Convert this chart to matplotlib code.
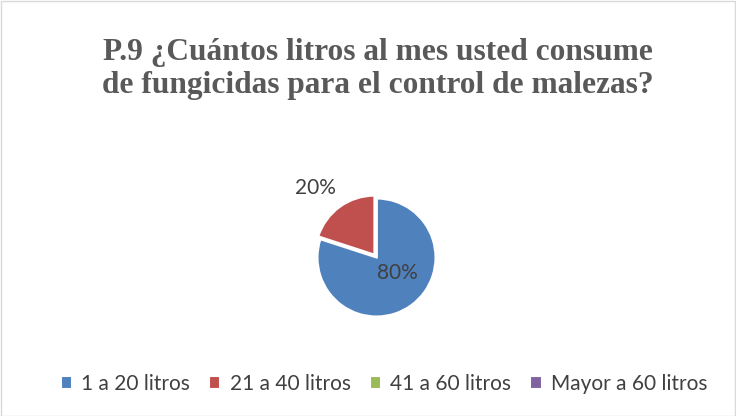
import matplotlib.pyplot as plt
from matplotlib.patches import Rectangle

# Datos
categorias = ['1 a 20 litros', '21 a 40 litros', '41 a 60 litros', 'Mayor a 60 litros']
porcentajes = [80, 20, 0, 0]
colores = ['#4f81bd', '#c0504d', '#9bbb59', '#8064a2']
titulo = 'P.9 ¿Cuántos litros al mes usted consume\nde fungicidas para el control de malezas?'

W, H = 736, 416
fig = plt.figure(figsize=(W / 100, H / 100), dpi=100, facecolor='white')

# borde del area del grafico
fig.patches.append(Rectangle((0.5 / W, 0.5 / H), 1 - 1.5 / W, 1 - 1.5 / H,
                             transform=fig.transFigure, fill=False,
                             edgecolor='#d9d9d9', linewidth=1))

fig.text(378 / W, 1 - 69 / H, titulo, ha='center', va='center',
         fontsize=22.6, fontweight='bold', family='Liberation Serif',
         color='#595959', linespacing=1.2)

# eje del pastel: 1 unidad = 59 px, centro en (376.5, 257.5)
r_px = 59
cx, cy = 376.5, H - 257.5
lado = 3 * r_px
ax = fig.add_axes([(cx - lado / 2) / W, (cy - lado / 2) / H, lado / W, lado / H])
ax.set_xlim(-1.5, 1.5)
ax.set_ylim(-1.5, 1.5)
ax.set_aspect('equal')
ax.axis('off')

explode = [0, 0.06, 0, 0]
wedges, textos, autotextos = ax.pie(
    porcentajes, colors=colores, startangle=90, counterclock=False,
    explode=explode, radius=1,
    autopct=lambda p: f'{p:.0f}%' if p > 0 else '',
    wedgeprops=dict(edgecolor='white', linewidth=1.5),
    textprops=dict(fontsize=15, color='#404040', family='Lato'))
ax.set_xlim(-1.5, 1.5)
ax.set_ylim(-1.5, 1.5)

# posiciones de etiquetas como en el original
autotextos[0].set_position((0.35, -0.26))
autotextos[1].set_position((-1.03, 1.18))

fig.legend(wedges, categorias, loc='center', bbox_to_anchor=(384 / W, 1 - 384 / H),
           ncol=4, frameon=False, handlelength=0.55, handleheight=0.55,
           handletextpad=0.45, columnspacing=0.9,
           prop=dict(family='Lato', size=15), labelcolor='#404040')

fig.savefig('out.png', dpi=100)
